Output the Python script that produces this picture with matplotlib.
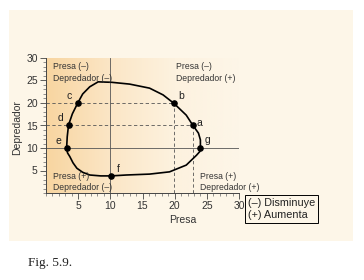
import numpy as np
import matplotlib
matplotlib.use('Agg')
import matplotlib.pyplot as plt
from matplotlib.colors import LinearSegmentedColormap
from matplotlib.patches import Rectangle

plt.rcParams['font.family'] = ['Liberation Sans', 'DejaVu Sans']

# Predator-prey cycle (prey, predator)
cycle_prey = [24.0, 24.0, 23.7, 22.8, 21.8, 19.9, 18.2, 16.1, 13.0, 10.2, 8.1,
              6.8, 5.7, 4.9, 4.1, 3.5, 3.3, 3.25, 3.2, 3.35, 3.7, 4.2, 4.8,
              5.7, 6.8, 8.5, 10.1, 12.5, 16.1, 19.2, 21.8, 23.4, 23.9, 24.0]
cycle_pred = [10.1, 11.8, 13.3, 15.1, 17.3, 19.9, 21.8, 23.3, 24.2, 24.6, 24.7,
              23.6, 22.0, 19.9, 17.6, 15.1, 12.5, 11.2, 9.9, 8.9, 8.1, 6.7, 5.5,
              4.6, 4.0, 3.8, 3.8, 4.0, 4.2, 4.7, 6.2, 8.4, 9.2, 10.1]

# labelled points
pt_names = ['a', 'b', 'c', 'd', 'e', 'f', 'g']
pt_prey = [22.8, 19.9, 4.9, 3.5, 3.2, 10.1, 24.0]
pt_pred = [15.1, 19.9, 19.9, 15.1, 9.9, 3.8, 10.1]
pt_offsets = [(3, -1), (3, 3), (-8, 3), (-8, 3), (-8, 3), (4, 3), (3, 3)]

quadrant_text = [
    (1.1, 29.0, 'Presa (\u2013)\nDepredador (\u2013)'),
    (20.2, 29.0, 'Presa (\u2013)\nDepredador (+)'),
    (1.1, 4.7, 'Presa (+)\nDepredador (\u2013)'),
    (24.0, 4.7, 'Presa (+)\nDepredador (+)'),
]

W, H = 364, 280
fig = plt.figure(figsize=(W / 100, H / 100), dpi=100)
fig.patch.set_facecolor('white')

# cream panel behind the chart
fig.patches.append(Rectangle((9 / W, 1 - 241 / H), 344 / W, 231 / H,
                             transform=fig.transFigure, facecolor='#fdf6e8',
                             edgecolor='none', zorder=-10))

ax = fig.add_axes([46 / W, 1 - 193 / H, 193 / W, 135 / H])
ax.set_facecolor('none')
ax.set_zorder(1)
ax.set_xlim(0, 30)
ax.set_ylim(0, 30)

# peach gradient inside the plot area
cmap = LinearSegmentedColormap.from_list('peach', ['#f8d5a0', '#fbe6c6', '#fdf2df', '#fdf6e8'])
grad = np.linspace(0, 1, 256).reshape(1, -1)
ax.imshow(grad, extent=[0, 30, 0, 30], aspect='auto', cmap=cmap, zorder=0)

# reference lines
ax.plot([10, 10], [0, 30], color='#555555', lw=0.6, zorder=1)
ax.plot([0, 30], [10, 10], color='#555555', lw=0.6, zorder=1)
dash = dict(color='#555555', lw=0.6, linestyle=(0, (4, 3)), zorder=1)
ax.plot([0, pt_prey[1]], [pt_pred[1], pt_pred[1]], **dash)
ax.plot([0, pt_prey[0]], [pt_pred[0], pt_pred[0]], **dash)
ax.plot([pt_prey[1], pt_prey[1]], [0, pt_pred[1]], **dash)
ax.plot([pt_prey[0], pt_prey[0]], [0, pt_pred[0]], **dash)

# cycle
ax.plot(cycle_prey, cycle_pred, color='black', lw=1.2, zorder=3,
        solid_joinstyle='round')
ax.scatter(pt_prey, pt_pred, s=14, color='black', zorder=4)
for name, x, y, off in zip(pt_names, pt_prey, pt_pred, pt_offsets):
    ax.annotate(name, (x, y), xytext=off, textcoords='offset points',
                fontsize=7.5, color='#222222', zorder=5)

for x, y, txt in quadrant_text:
    ax.text(x, y, txt, fontsize=6.2, color='#333333', va='top', ha='left',
            linespacing=1.3, clip_on=False, zorder=5)

# axes styling
for side in ['top', 'right']:
    ax.spines[side].set_visible(False)
for side in ['left', 'bottom']:
    ax.spines[side].set_color('#444444')
    ax.spines[side].set_linewidth(0.7)
ax.set_xticks([5, 10, 15, 20, 25, 30])
ax.set_yticks([5, 10, 15, 20, 25, 30])
ax.set_xticks(np.arange(0, 31, 1), minor=True)
ax.set_yticks(np.arange(0, 31, 1), minor=True)
ax.tick_params(which='major', length=4, width=0.6, color='#444444',
               labelsize=7.5, labelcolor='#333333', pad=2)
ax.tick_params(which='minor', length=2.5, width=0.5, color='#666666')

fig.text(183 / W, 1 - 220 / H, 'Presa', fontsize=7.5, color='#333333',
         ha='center', va='center')
fig.text(17 / W, 1 - 128 / H, 'Depredador', fontsize=7.5, color='#333333',
         ha='center', va='center', rotation=90)

# legend box
fig.text(248 / W, 1 - 209 / H, '(\u2013) Disminuye\n(+) Aumenta', fontsize=7.8,
         color='#222222', ha='left', va='center', linespacing=1.25,
         bbox=dict(boxstyle='square,pad=0.25', facecolor='#fdf6e8',
                   edgecolor='black', linewidth=0.7))

fig.text(28 / W, 1 - 263 / H, 'Fig. 5.9.', fontsize=9.5,
         family='Liberation Serif', color='#222222', ha='left', va='center')

fig.savefig('out.png', dpi=100)
